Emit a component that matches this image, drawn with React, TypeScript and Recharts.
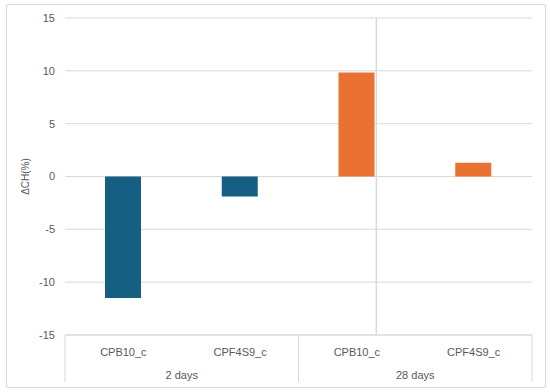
import React from 'react';
import { BarChart, Bar, Cell, XAxis, YAxis, CartesianGrid, ReferenceLine } from 'recharts';

const categories = ['CPB10_c', 'CPF4S9_c', 'CPB10_c', 'CPF4S9_c'];
const groups = ['2 days', '2 days', '28 days', '28 days'];
const values = [-11.5, -1.9, 9.85, 1.3];
const groupColors: Record<string, string> = { '2 days': '#156082', '28 days': '#E97132' };
const yTicks = [-15, -10, -5, 0, 5, 10, 15];

const data = categories.map((name, i) => ({ key: i, name, group: groups[i], value: values[i] }));

const TEXT = '#595959';
const GRID = '#d9d9d9';
const FONT = '"Liberation Sans", Arial, sans-serif';

function GroupTick(props: any) {
  const { x, y, payload, index } = props;
  const half = payload && payload.offset ? payload.offset : 58.4;
  const d = data[index];
  const first = index === 0 || data[index - 1].group !== d.group;
  const last = index === data.length - 1;
  return (
    <g>
      <text x={x} y={y + 21} textAnchor="middle" fill={TEXT} fontSize={11} fontFamily={FONT}>
        {d.name}
      </text>
      {first && (
        <>
          <line x1={x - half} y1={y} x2={x - half} y2={y + 47} stroke={GRID} />
          <text x={x + half} y={y + 44} textAnchor="middle" fill={TEXT} fontSize={11} fontFamily={FONT}>
            {d.group}
          </text>
        </>
      )}
      {last && <line x1={x + half} y1={y} x2={x + half} y2={y + 47} stroke={GRID} />}
    </g>
  );
}

export default function App() {
  return (
    <div style={{ position: 'absolute', left: 0, top: 0, width: 550, height: 392, background: '#fff' }}>
      <div
        style={{
          position: 'absolute',
          left: 6,
          top: 4,
          width: 538,
          height: 382,
          border: `1px solid ${GRID}`,
          borderRadius: 2,
        }}
      />
      <div style={{ position: 'absolute', left: 0, top: 0 }}>
        <BarChart width={550} height={392} data={data} margin={{ top: 18, right: 18, left: 0, bottom: 0 }}>
          <CartesianGrid vertical={false} stroke={GRID} />
          <XAxis
            dataKey="key"
            tick={(p: any) => <GroupTick {...p} />}
            height={57}
            tickLine={false}
            tickSize={0}
            tickMargin={0}
            axisLine={{ stroke: GRID }}
            interval={0}
          />
          <XAxis xAxisId="num" type="number" domain={[0, 4]} hide />
          <YAxis
            domain={[-15, 15]}
            ticks={yTicks}
            width={65}
            axisLine={false}
            tickLine={false}
            tickMargin={4}
            tick={{ fill: TEXT, fontSize: 11, fontFamily: FONT }}
            label={{
              value: 'ΔCH(%)',
              angle: -90,
              position: 'insideLeft',
              offset: 25,
              style: { fill: TEXT, fontSize: 10, fontFamily: FONT, textAnchor: 'middle' },
            }}
          />
          <ReferenceLine xAxisId="num" x={2} stroke={GRID} strokeWidth={1.5} />
          <Bar dataKey="value" barSize={36} isAnimationActive={false}>
            {data.map((d) => (
              <Cell key={d.key} fill={groupColors[d.group]} />
            ))}
          </Bar>
        </BarChart>
      </div>
    </div>
  );
}
